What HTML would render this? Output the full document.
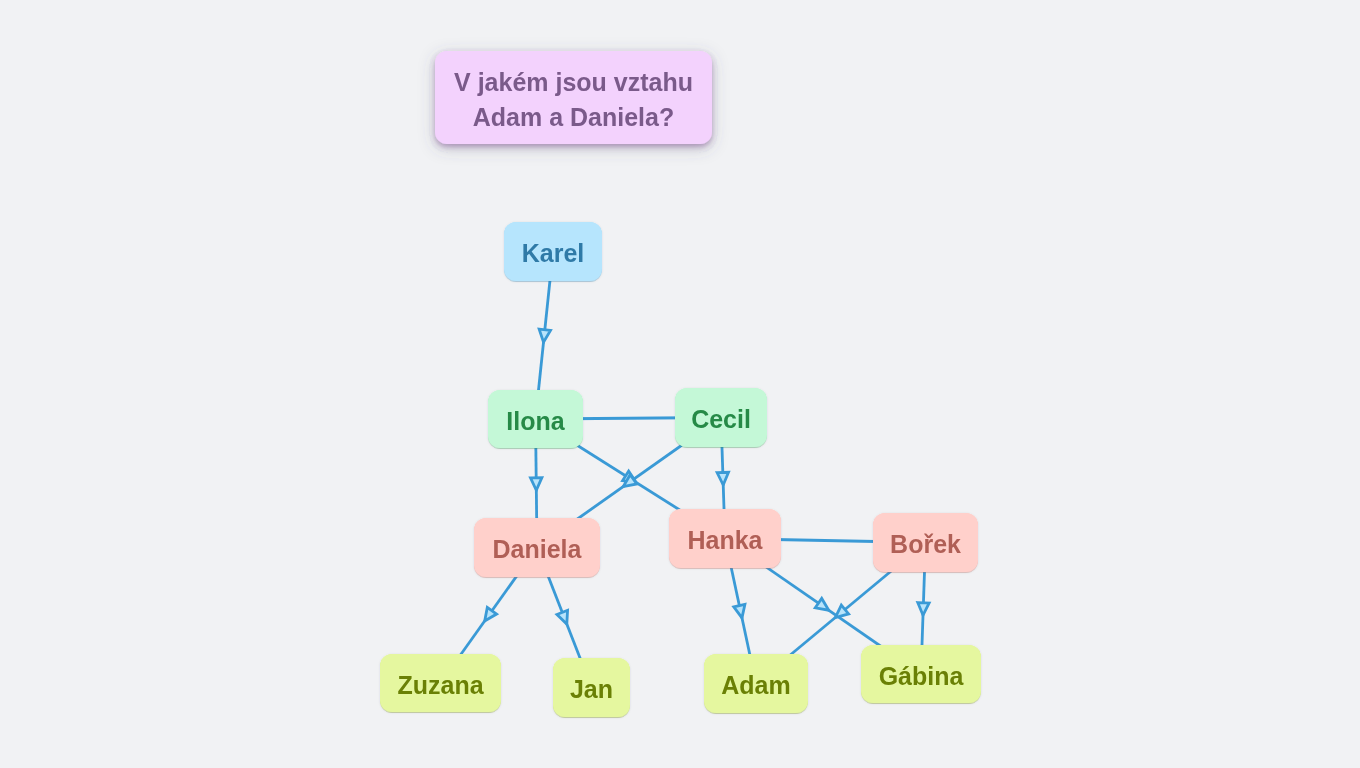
<!DOCTYPE html>
<html><head><meta charset="utf-8"><style>
html,body{margin:0;padding:0;background:#f1f2f4;width:1360px;height:768px;overflow:hidden}
svg{display:block}
text{font-family:"Liberation Sans",sans-serif;font-weight:bold;font-size:25px;text-anchor:middle}
</style></head><body>
<svg width="1360" height="768" viewBox="0 0 1360 768">
<defs>
<filter id="shblue" x="-20%" y="-20%" width="140%" height="150%"><feDropShadow dx="0" dy="0.5" stdDeviation="1.2" flood-color="#404050" flood-opacity="0.11" result="a"/><feDropShadow in="SourceGraphic" dx="0" dy="1" stdDeviation="0.7" flood-color="#2f7aa7" flood-opacity="0.3" result="b"/><feMerge><feMergeNode in="a"/><feMergeNode in="b"/></feMerge></filter><filter id="shgreen" x="-20%" y="-20%" width="140%" height="150%"><feDropShadow dx="0" dy="0.5" stdDeviation="1.2" flood-color="#404050" flood-opacity="0.11" result="a"/><feDropShadow in="SourceGraphic" dx="0" dy="1" stdDeviation="0.7" flood-color="#268a47" flood-opacity="0.3" result="b"/><feMerge><feMergeNode in="a"/><feMergeNode in="b"/></feMerge></filter><filter id="shred" x="-20%" y="-20%" width="140%" height="150%"><feDropShadow dx="0" dy="0.5" stdDeviation="1.2" flood-color="#404050" flood-opacity="0.11" result="a"/><feDropShadow in="SourceGraphic" dx="0" dy="1" stdDeviation="0.7" flood-color="#b05f56" flood-opacity="0.3" result="b"/><feMerge><feMergeNode in="a"/><feMergeNode in="b"/></feMerge></filter><filter id="shlime" x="-20%" y="-20%" width="140%" height="150%"><feDropShadow dx="0" dy="0.5" stdDeviation="1.2" flood-color="#404050" flood-opacity="0.11" result="a"/><feDropShadow in="SourceGraphic" dx="0" dy="1" stdDeviation="0.7" flood-color="#6a8005" flood-opacity="0.3" result="b"/><feMerge><feMergeNode in="a"/><feMergeNode in="b"/></feMerge></filter>
<filter id="shq" x="-20%" y="-40%" width="140%" height="190%"><feDropShadow dx="0" dy="4" stdDeviation="8" flood-color="#505068" flood-opacity="0.3" result="a"/><feDropShadow in="SourceGraphic" dx="0" dy="3" stdDeviation="2.5" flood-color="#7a4a90" flood-opacity="0.4" result="b"/><feMerge><feMergeNode in="a"/><feMergeNode in="b"/></feMerge></filter>
</defs>
<rect width="1360" height="768" fill="#f1f2f4"/>
<g stroke="#3a9ad6" stroke-width="2.8" fill="none">
<line x1="553.0" y1="251.5" x2="535.5" y2="419.0"/>
<line x1="535.5" y1="419.0" x2="721.0" y2="417.5"/>
<line x1="535.5" y1="419.0" x2="537.0" y2="547.5"/>
<line x1="535.5" y1="419.0" x2="725.0" y2="538.5"/>
<line x1="721.0" y1="417.5" x2="725.0" y2="538.5"/>
<line x1="721.0" y1="417.5" x2="537.0" y2="547.5"/>
<line x1="725.0" y1="538.5" x2="925.5" y2="542.5"/>
<line x1="537.0" y1="547.5" x2="440.5" y2="683.0"/>
<line x1="537.0" y1="547.5" x2="591.5" y2="687.5"/>
<line x1="725.0" y1="538.5" x2="756.0" y2="683.5"/>
<line x1="725.0" y1="538.5" x2="921.0" y2="674.0"/>
<line x1="925.5" y1="542.5" x2="756.0" y2="683.5"/>
<line x1="925.5" y1="542.5" x2="921.0" y2="674.0"/>
</g>
<g stroke="#3a9ad6" stroke-width="2.8" fill="#b8e4fb" stroke-linejoin="miter">
<polygon points="539.15,329.19 550.49,330.37 543.52,342.21"/>
<polygon points="530.49,477.82 541.89,477.68 536.33,490.25"/>
<polygon points="622.56,480.64 628.64,470.99 636.17,482.48"/>
<polygon points="717.12,472.69 728.52,472.31 723.23,485.00"/>
<polygon points="630.20,474.67 636.78,483.98 623.28,486.54"/>
<polygon points="487.30,607.46 496.58,614.08 484.69,620.95"/>
<polygon points="556.94,614.44 567.57,610.31 566.79,624.02"/>
<polygon points="733.78,606.81 744.92,604.43 741.96,617.85"/>
<polygon points="815.23,607.81 821.72,598.43 828.76,610.23"/>
<polygon points="841.33,605.10 848.62,613.86 835.37,617.48"/>
<polygon points="917.74,602.56 929.13,602.95 923.01,615.25"/>
</g>
<rect x="435" y="51" width="277" height="93" rx="12" fill="#f3d2fd" filter="url(#shq)"/>
<g style="will-change:transform"><text transform="translate(573.5 91.3) scale(1 1.04)" fill="#7a5a8a">V jakém jsou vztahu</text>
<text transform="translate(573.5 125.5) scale(1 1.04)" fill="#7a5a8a">Adam a Daniela?</text></g>
<rect x="504" y="222" width="98" height="59" rx="12" fill="#b6e5fd" filter="url(#shblue)"/>
<rect x="488" y="390" width="95" height="58" rx="12" fill="#c4f8d7" filter="url(#shgreen)"/>
<rect x="675" y="388" width="92" height="59" rx="12" fill="#c4f8d7" filter="url(#shgreen)"/>
<rect x="474" y="518" width="126" height="59" rx="12" fill="#ffd0cb" filter="url(#shred)"/>
<rect x="669" y="509" width="112" height="59" rx="12" fill="#ffd0cb" filter="url(#shred)"/>
<rect x="873" y="513" width="105" height="59" rx="12" fill="#ffd0cb" filter="url(#shred)"/>
<rect x="380" y="654" width="121" height="58" rx="12" fill="#e5f79f" filter="url(#shlime)"/>
<rect x="553" y="658" width="77" height="59" rx="12" fill="#e5f79f" filter="url(#shlime)"/>
<rect x="704" y="654" width="104" height="59" rx="12" fill="#e5f79f" filter="url(#shlime)"/>
<rect x="861" y="645" width="120" height="58" rx="12" fill="#e5f79f" filter="url(#shlime)"/>
<g style="will-change:transform">
<text transform="translate(553.0 262.0) scale(1 1.05)" fill="#2f7aa7">Karel</text>
<text transform="translate(535.5 429.5) scale(1 1.05)" fill="#268a47">Ilona</text>
<text transform="translate(721.0 428.0) scale(1 1.05)" fill="#268a47">Cecil</text>
<text transform="translate(537.0 558.0) scale(1 1.05)" fill="#b05f56">Daniela</text>
<text transform="translate(725.0 549.0) scale(1 1.05)" fill="#b05f56">Hanka</text>
<text transform="translate(925.5 553.0) scale(1 1.05)" fill="#b05f56">Bořek</text>
<text transform="translate(440.5 693.5) scale(1 1.05)" fill="#6a8005">Zuzana</text>
<text transform="translate(591.5 698.0) scale(1 1.05)" fill="#6a8005">Jan</text>
<text transform="translate(756.0 694.0) scale(1 1.05)" fill="#6a8005">Adam</text>
<text transform="translate(921.0 684.5) scale(1 1.05)" fill="#6a8005">Gábina</text>
</g>
</svg>
</body></html>
